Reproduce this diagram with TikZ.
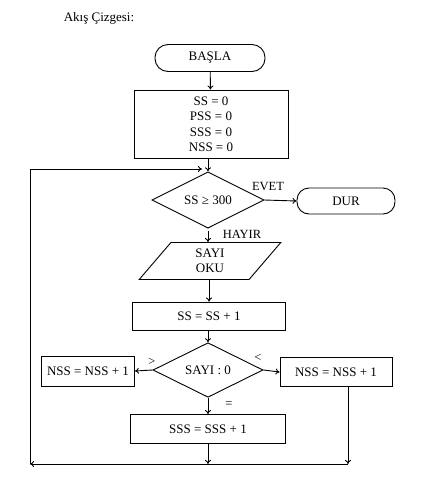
\documentclass[tikz,border=0pt]{standalone}
\usepackage{fontspec}
\setmainfont{Liberation Serif}
\usetikzlibrary{shapes.geometric,arrows.meta}
\begin{document}
\begin{tikzpicture}[x=1pt,y=-1pt,
  every node/.style={font=\fontsize{13}{15.5}\selectfont, inner sep=0pt},
  box/.style={draw, line width=0.9pt, align=center},
  term/.style={draw, line width=0.9pt, rounded corners=13pt},
  dec/.style={draw, line width=0.9pt, diamond},
  io/.style={draw, line width=0.9pt, trapezium, trapezium left angle=64, trapezium right angle=116, trapezium stretches=true, align=center},
  lbl/.style={font=\fontsize{12.5}{14}\selectfont},
  conn/.style={line width=0.9pt},
  arr/.style={conn, -{To[length=4pt,width=6pt]}}]
\useasboundingbox (0,0) rectangle (430,499);
\node (title) at (99,18) {Akış Çizgesi:};
\node[term, minimum width=110pt, minimum height=27pt] (start) at (210,58) {BAŞLA};
\node[box, minimum width=154pt, minimum height=68pt] (init) at (211,124) {SS = 0\\PSS = 0\\SSS = 0\\NSS = 0};
\node[dec, minimum width=112pt, minimum height=47pt] (d1) at (208,200) {SS ≥ 300};
\node[term, minimum width=98pt, minimum height=26pt, rounded corners=12pt] (dur) at (346,201) {DUR};
\node[io, minimum width=142pt, minimum height=37pt] (read) at (210,261) {SAYI\\OKU};
\node[box, minimum width=153pt, minimum height=28pt] (inc) at (209,316) {SS = SS + 1};
\node[dec, minimum width=110pt, minimum height=46pt] (d2) at (208,370) {SAYI : 0};
\node[box, minimum width=93pt, minimum height=30pt] (lbox) at (88,371) {NSS = NSS + 1};
\node[box, minimum width=112pt, minimum height=29pt] (rbox) at (336,372) {NSS = NSS + 1};
\node[box, minimum width=155pt, minimum height=29pt] (sss) at (208,429) {SSS = SSS + 1};
\node[lbl] (evet) at (268,186) {EVET};
\node[lbl] (hayir) at (242,234) {HAYIR};
\node[lbl] (gt) at (152,362) {>};
\node[lbl] (lt) at (258,358) {<};
\node[lbl] (eq) at (229,405) {=};
\coordinate (bl) at (30,464);
\coordinate (br) at (348,464);
\coordinate (tl) at (30,169);
\coordinate (join) at (202,169);
\draw[arr] (start) -- (init);
\draw[arr] (init.south -| d1.north) -- (d1.north);
\draw[arr] (d1.east) -- (dur.west);
\draw[arr] (d1.south) ++(0,2) coordinate (d1s) -- (read.north -| d1s);
\draw[arr] (read.south -| inc.north) -- (inc.north);
\draw[arr] (inc.south -| d2.north) -- (d2.north);
\draw[arr] (d2.west) -- (lbox.east);
\draw[arr] (d2.east) -- (rbox.west);
\draw[arr] (d2.south) -- (sss.north);
\draw[arr] (sss.south) -- (sss.south |- bl);
\draw[arr] (rbox.south -| br) -- (br);
\draw[arr] (br) -- (bl);
\draw[arr] (bl) -- (tl) -- (join);
\end{tikzpicture}
\end{document}
